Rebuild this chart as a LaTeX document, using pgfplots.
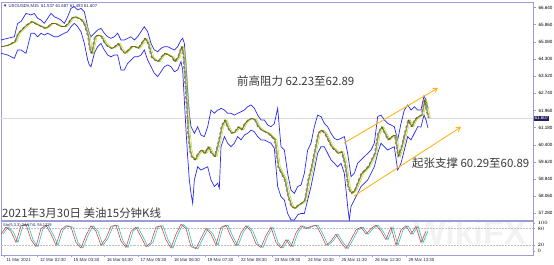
\documentclass[border=0pt]{standalone}
\usepackage{fontspec}
\setmainfont{Liberation Sans}
\newfontfamily\cjk{Noto Sans CJK SC}
\usepackage{pgfplots}
\pgfplotsset{compat=1.18}
\usepackage{pgfplotstable}
\usetikzlibrary{arrows.meta}
\definecolor{frame}{HTML}{9C9CD6}
\definecolor{band}{HTML}{2828F0}
\definecolor{ma1}{HTML}{E01010}
\definecolor{ma2}{HTML}{00B000}
\definecolor{ma3}{HTML}{E8C000}
\definecolor{chan}{HTML}{FFB415}
\definecolor{txt}{HTML}{3A3A3A}
\definecolor{info}{HTML}{202060}
\definecolor{stk}{HTML}{D03030}
\definecolor{sig}{HTML}{30C0C0}

\pgfplotstableread{
X c u l
0 64.86 65.16 64.56
20 64.93 65.24 64.48
40 65.09 65.31 64.33
50 65.47 65.92 64.71
60 65.62 66.00 64.71
75 65.84 66.37 64.56
90 66.00 66.30 65.47
100 65.92 66.37 65.47
110 65.84 66.15 65.31
120 65.77 66.07 65.47
130 65.69 65.92 65.39
140 65.77 66.15 65.47
150 65.92 66.37 65.39
160 65.92 66.22 65.31
170 65.84 66.15 65.31
180 65.77 66.07 65.39
190 65.77 65.92 65.47
200 65.92 66.22 65.54
210 66.15 66.60 65.77
220 66.22 66.68 65.92
230 66.15 66.53 65.77
240 66.07 66.60 65.54
250 65.84 66.45 65.01
260 65.31 65.77 64.25
265 64.71 65.47 64.03
270 64.56 65.31 63.95
280 65.31 65.47 64.56
290 65.39 65.62 64.86
300 65.31 65.69 65.01
310 65.01 65.47 64.71
320 64.86 65.31 64.48
330 64.78 65.24 64.40
340 64.86 65.31 64.48
350 65.01 65.47 64.48
360 64.71 65.16 63.80
370 64.56 65.16 63.80
380 64.71 65.24 64.10
390 64.86 65.31 64.25
400 64.86 65.16 64.40
410 64.78 65.31 64.40
420 65.01 65.54 64.48
430 65.24 65.77 64.71
440 65.01 65.54 64.25
450 64.40 65.01 63.95
460 64.25 64.71 63.65
470 64.18 64.63 63.50
480 64.40 64.78 63.72
490 64.56 64.86 63.95
500 64.48 64.86 64.03
510 64.40 64.78 63.95
520 64.18 64.71 63.72
530 64.40 64.86 63.80
540 64.86 65.16 64.18
545 64.56 65.24 63.80
550 63.50 65.01 62.43
555 62.28 64.10 61.07
560 60.92 62.89 59.86
565 60.16 61.83 58.80
570 59.86 61.22 58.19
575 59.80 61.07 57.74
580 59.71 60.92 58.80
590 60.01 61.22 59.40
600 60.16 60.84 59.25
610 60.01 60.77 59.33
620 60.31 61.22 59.40
630 60.01 61.98 58.80
640 59.86 61.83 58.50
650 60.47 61.98 58.65
655 60.80 62.00 58.42
660 61.22 62.06 60.31
670 61.53 61.98 60.77
680 61.15 61.83 60.47
690 60.92 61.83 60.31
700 60.99 61.75 60.47
710 61.22 61.83 60.77
720 61.07 61.90 60.62
730 61.37 61.98 60.84
740 61.53 62.13 60.92
750 61.60 62.21 61.07
760 61.53 62.06 60.99
770 61.22 61.75 60.77
780 61.07 61.53 60.62
790 60.99 61.53 60.62
800 60.92 61.30 60.54
810 60.77 61.22 60.47
820 60.62 61.37 60.24
830 59.40 62.06 58.50
840 59.10 60.31 58.04
850 58.80 60.16 57.89
860 58.04 59.10 57.28
870 57.59 58.34 56.98
880 57.51 58.19 56.98
890 57.66 58.50 57.21
900 57.74 58.57 57.28
910 57.89 59.10 57.28
920 58.80 60.16 57.89
930 59.40 60.47 58.50
940 60.16 61.22 59.25
950 60.92 61.75 60.01
960 61.07 61.68 60.31
970 60.92 61.37 60.31
980 60.62 61.22 60.01
990 60.31 60.92 59.71
1000 60.16 60.69 59.56
1010 60.01 60.62 59.40
1020 60.09 60.69 59.56
1030 59.56 60.77 59.10
1040 58.50 60.01 57.59
1045 58.30 59.50 56.98
1050 58.19 58.95 57.59
1060 58.34 59.10 57.89
1070 58.72 59.56 58.19
1080 59.10 59.71 58.50
1090 59.25 59.86 58.65
1100 59.40 60.01 58.80
1110 59.71 60.16 59.10
1120 60.01 60.47 59.40
1130 60.92 61.68 60.01
1140 61.22 61.75 60.47
1150 60.92 61.53 60.31
1160 60.62 61.37 60.16
1170 60.77 61.30 60.24
1180 60.84 61.22 60.31
1190 59.86 60.62 59.25
1200 60.31 61.37 59.56
1210 60.92 61.98 60.16
1220 61.53 62.21 60.77
1230 61.22 61.98 60.62
1240 61.53 62.13 60.92
1250 61.68 61.98 61.22
1260 61.75 61.98 61.21
1269 62.44 62.62 61.75
1275 61.98 62.44 61.53
1281 61.61 62.07 61.16
}\price

\pgfplotstableread{
X k
0 60
15 85
30 70
45 30
60 90
75 95
90 40
105 15
120 80
135 92
150 60
165 20
180 75
195 90
210 85
225 30
240 10
255 55
270 90
285 70
300 20
315 45
330 88
345 92
360 35
375 12
390 70
405 85
420 50
435 15
450 30
465 85
480 90
495 40
510 10
525 60
540 95
555 80
570 15
585 8
600 45
615 80
630 60
645 20
660 85
675 92
690 50
705 18
720 65
735 90
750 70
765 25
780 12
795 55
810 85
825 30
840 10
855 40
870 15
885 65
900 90
915 80
930 88
945 92
960 60
975 20
990 35
1005 60
1020 30
1035 8
1050 40
1065 75
1080 85
1095 60
1110 80
1125 92
1140 70
1155 40
1170 85
1185 20
1200 75
1215 90
1230 60
1245 88
1260 30
1275 70
}\stoch

\begin{document}
\begin{tikzpicture}
% watermark
\node[text=gray!10, font=\bfseries\fontsize{34}{34}\selectfont, anchor=center] at (470bp,-232bp) {WikiFX};

\begin{axis}[
  at={(1bp,-2bp)}, anchor=north west,
  scale only axis, width=532bp, height=218bp,
  xmin=0, xmax=1596, ymin=56.98, ymax=66.89,
  axis line style={frame, line width=0.8pt},
  xtick=\empty,
  ytick={57.28,58.06,58.84,59.62,60.40,61.18,61.96,62.74,63.52,64.30,65.08,65.86,66.64},
  ytick pos=right, yticklabel pos=right,
  tick align=outside, major tick length=3bp,
  tick style={frame, line width=0.5pt},
  yticklabel style={font=\fontsize{4.6}{5}\selectfont, text=black, xshift=-1bp,
    /pgf/number format/.cd, fixed, fixed zerofill, precision=3, assume math mode=true},
  clip mode=individual,
]
\addplot[gray!30, line width=1.3pt] coordinates {(0,61.607) (1596,61.607)};
\addplot[band, line width=0.7pt] table[x=X, y=u] {\price};
\addplot[band, line width=0.7pt] table[x=X, y=l] {\price};
\addplot[ma3, line width=0.45pt] table[x expr=\thisrow{X}+8, y=c] {\price};
\addplot[black!80, line width=0.35pt] table[x expr=\thisrow{X}+2, y=c] {\price};
\addplot[ma2, line width=0.45pt] table[x expr=\thisrow{X}+4, y=c] {\price};
\addplot[ma1, line width=0.4pt, densely dashed] table[x=X, y=c] {\price};
\addplot[chan, line width=0.9pt, -{Straight Barb[length=4bp,width=5bp]}] coordinates {(1029,60.48) (1311,62.98)};
\addplot[chan, line width=0.9pt, -{Straight Barb[length=4bp,width=5bp]}] coordinates {(1059,58.07) (1380,61.21)};
\coordinate (pl) at (axis cs:1596,61.607);
\end{axis}

\node[fill=info, text=white, font=\fontsize{4.6}{5}\selectfont, inner sep=0.8bp, anchor=west] at ([xshift=0.5bp]pl) {61.607};

\node[anchor=west, text=info, font=\fontsize{4.3}{5}\selectfont, inner sep=0] at (3bp,-6bp) {▼ USOUSD\#,M15\ \ 61.537 61.687 61.493 61.607};

\node[anchor=west, text=txt, font=\cjk\fontsize{11.5}{12}\selectfont, inner sep=0] at (237bp,-81bp) {前高阻力 62.23至62.89};
\node[anchor=west, text=txt, font=\cjk\fontsize{11.5}{12}\selectfont, inner sep=0] at (412bp,-163bp) {起张支撑 60.29至60.89};

\begin{axis}[
  at={(1bp,-221bp)}, anchor=north west,
  scale only axis, width=532bp, height=34bp,
  xmin=0, xmax=1596, ymin=-15, ymax=107,
  axis line style={frame, line width=0.8pt},
  ytick={0,20,80,100},
  ytick pos=right, yticklabel pos=right,
  xtick={9,109.5,210,310.5,411,511.5,612,712.5,813,913.5,1014,1114.5,1215},
  xticklabels={11 Mar 2021,12 Mar 02:30,15 Mar 03:30,16 Mar 04:30,17 Mar 05:30,18 Mar 06:30,19 Mar 07:30,22 Mar 08:30,23 Mar 09:30,24 Mar 10:30,25 Mar 11:30,26 Mar 12:30,29 Mar 13:30},
  xtick pos=bottom,
  tick align=outside, major tick length=2bp,
  tick style={frame, line width=0.5pt},
  xticklabel style={anchor=north west, xshift=-1bp, yshift=2bp, font=\fontsize{4.4}{5}\selectfont, text=info},
  yticklabel style={font=\fontsize{4.4}{5}\selectfont, text=black, xshift=-1bp},
  clip mode=individual,
]
\addplot[gray!50, densely dotted, line width=0.5pt] coordinates {(0,80) (1596,80)};
\addplot[gray!50, densely dotted, line width=0.5pt] coordinates {(0,20) (1596,20)};
\addplot[sig, line width=0.6pt] table[x expr=\thisrow{X}+6, y=k] {\stoch};
\addplot[stk, line width=0.5pt] table[x=X, y=k] {\stoch};
\end{axis}

\node[anchor=west, text=info, font=\fontsize{4}{5}\selectfont, inner sep=0] at (3bp,-225bp) {Sto(5,3,3) 34.6741 58.1329};
\node[anchor=west, text=txt, font=\cjk\fontsize{11.5}{12}\selectfont, inner sep=0] at (2bp,-213bp) {2021年3月30日 美油15分钟K线};

\pgfresetboundingbox
\path (0,0) rectangle (554bp,-265bp);
\end{tikzpicture}
\end{document}
